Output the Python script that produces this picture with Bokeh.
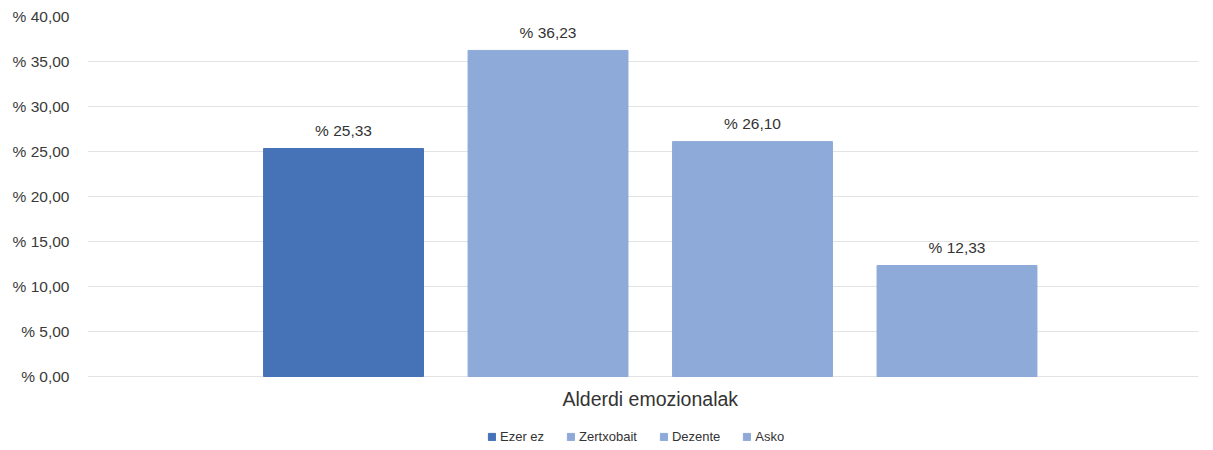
from bokeh.plotting import figure
from bokeh.models import (Range1d, FixedTicker, CustomJSTickFormatter, Legend, LegendItem,
                          LinearAxis, ColumnDataSource, LabelSet, Label)
from bokeh.core.properties import value
from bokeh.embed import file_html
from bokeh.resources import INLINE

categories = ["Ezer ez", "Zertxobait", "Dezente", "Asko"]
values = [25.33, 36.23, 26.10, 12.33]
labels = ["% 25,33", "% 36,23", "% 26,10", "% 12,33"]
colors = ["#4672b8", "#8eaad9", "#8eaad9", "#8eaad9"]
group_label = "Alderdi emozionalak"
y_ticks = [0, 5, 10, 15, 20, 25, 30, 35, 40]

FONT = "Liberation Sans"

p = figure(width=1213, height=450, output_backend="svg", toolbar_location=None,
           x_range=Range1d(-1.252, 4.181), y_range=Range1d(-8.222, 40),
           x_axis_location=None, y_axis_location=None,
           min_border_left=87, min_border_right=15, min_border_top=16, min_border_bottom=0)
p.outline_line_color = None
p.background_fill_color = "white"
p.border_fill_color = "white"

xs = list(range(len(categories)))
items = []
for i, (c, v, col) in enumerate(zip(categories, values, colors)):
    src = ColumnDataSource(dict(x=[xs[i]], top=[v]))
    r = p.vbar(x="x", top="top", width=0.782, bottom=0, source=src,
               fill_color=col, line_color=col)
    items.append(LegendItem(label=c, renderers=[r]))

src_lab = ColumnDataSource(dict(x=xs, y=values, t=labels))
p.add_layout(LabelSet(x="x", y="y", text="t", source=src_lab, y_offset=18,
                      x_offset=0, text_align="center", text_baseline="middle",
                      text_font=value(FONT), text_font_size="15.5px", text_color="#333333"))

yaxis = LinearAxis(ticker=FixedTicker(ticks=y_ticks))
yaxis.formatter = CustomJSTickFormatter(code="return '% ' + tick.toFixed(2).replace('.', ',');")
yaxis.axis_line_color = None
yaxis.major_tick_line_color = None
yaxis.minor_tick_line_color = None
yaxis.major_label_standoff = 12
yaxis.major_label_text_font = FONT
yaxis.major_label_text_font_size = "15.5px"
yaxis.major_label_text_color = "#3a3a3a"
p.add_layout(yaxis, "left")

p.add_layout(Label(x=1.5, y=0, y_offset=-22, text=group_label, text_align="center",
                   text_baseline="middle", text_font=FONT, text_font_size="19.5px",
                   text_color="#333333"))

p.ygrid.ticker = FixedTicker(ticks=y_ticks)
p.ygrid.grid_line_color = "#e3e3e3"
p.ygrid.grid_line_width = 1
p.xgrid.grid_line_color = None

legend = Legend(items=items, orientation="horizontal", location=(400, 6),
                glyph_width=9, glyph_height=9, label_text_font=FONT,
                label_text_font_size="13px", label_text_color="#333333",
                spacing=22, padding=0, margin=0, label_standoff=4,
                label_height=14, border_line_color=None, background_fill_alpha=0)
p.add_layout(legend, "center")

open("out.html", "w").write(file_html(p, INLINE))
